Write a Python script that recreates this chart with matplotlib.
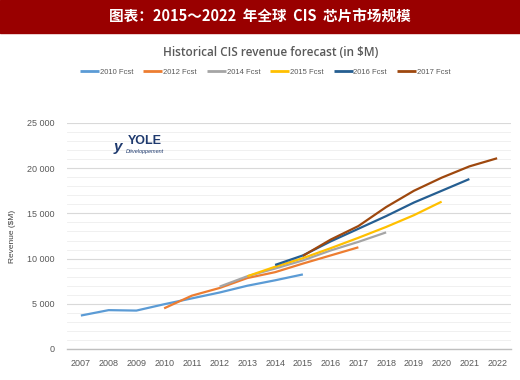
import numpy as np
import matplotlib.pyplot as plt
from matplotlib.patches import Rectangle
from matplotlib.ticker import FuncFormatter

banner_title = '图表：2015～2022  年全球  CIS  芯片市场规模'
chart_title = 'Historical CIS revenue forecast (in $M)'

years_2010 = [2007, 2008, 2009, 2010, 2011, 2012, 2013, 2014, 2015]
fcst_2010 = [3700, 4300, 4250, 4950, 5600, 6250, 7000, 7600, 8250]

years_2012 = [2010, 2011, 2012, 2013, 2014, 2015, 2016, 2017]
fcst_2012 = [4500, 5900, 6750, 7850, 8500, 9450, 10350, 11250]

years_2014 = [2012, 2013, 2014, 2015, 2016, 2017, 2018]
fcst_2014 = [6900, 8050, 8900, 9800, 10900, 11850, 12900]

years_2015 = [2013, 2014, 2015, 2016, 2017, 2018, 2019, 2020]
fcst_2015 = [8050, 9100, 10050, 11150, 12300, 13500, 14800, 16300]

years_2016 = [2014, 2015, 2016, 2017, 2018, 2019, 2020, 2021]
fcst_2016 = [9300, 10350, 11900, 13300, 14700, 16200, 17500, 18800]

years_2017 = [2015, 2016, 2017, 2018, 2019, 2020, 2021, 2022]
fcst_2017 = [10300, 12100, 13600, 15700, 17500, 18950, 20200, 21100]

series = [
    ('2010 Fcst', years_2010, fcst_2010, '#5B9BD5'),
    ('2012 Fcst', years_2012, fcst_2012, '#ED7D31'),
    ('2014 Fcst', years_2014, fcst_2014, '#A5A5A5'),
    ('2015 Fcst', years_2015, fcst_2015, '#FFC000'),
    ('2016 Fcst', years_2016, fcst_2016, '#255E91'),
    ('2017 Fcst', years_2017, fcst_2017, '#9E480E'),
]


def main():
    plt.rcParams['font.family'] = ['Liberation Sans', 'DejaVu Sans']
    fig = plt.figure(figsize=(5.2, 3.8), dpi=100)

    # red banner
    fig.patches.append(Rectangle((0, 1 - 33 / 380), 1, 33 / 380,
                                 transform=fig.transFigure,
                                 color='#990000', zorder=0))
    fig.text(0.5, 1 - 17 / 380, banner_title, color='white',
             fontsize=10.5, fontweight='bold', ha='center', va='center',
             family=['Noto Sans CJK SC', 'DejaVu Sans'])

    fig.text(0.52, 1 - 52 / 380, chart_title, color='#595959',
             fontsize=8.5, fontweight='semibold', ha='center',
             va='center', family='Open Sans')

    ax = fig.add_axes([67 / 520, 1 - 349 / 380, 444 / 520, 226 / 380])
    for name, xs, ys, col in series:
        ax.plot(xs, ys, color=col, lw=1.6, label=name,
                solid_capstyle='butt')

    ax.set_xlim(2006.5, 2022.5)
    ax.set_ylim(0, 25000)
    ax.set_xticks(np.arange(2007, 2023))
    ax.set_yticks(np.arange(0, 25001, 5000))
    ax.set_yticks(np.arange(0, 25001, 1000), minor=True)
    ax.yaxis.set_major_formatter(
        FuncFormatter(lambda v, p: f'{int(v):,}'.replace(',', ' ')))
    ax.grid(axis='y', which='major', color='#d9d9d9', lw=0.8)
    ax.grid(axis='y', which='minor', color='#eeeeee', lw=0.6)
    ax.set_axisbelow(True)
    for s in ['top', 'right', 'left']:
        ax.spines[s].set_visible(False)
    ax.spines['bottom'].set_color('#bfbfbf')
    ax.spines['bottom'].set_linewidth(1.0)
    ax.tick_params(axis='both', which='both', length=0, labelsize=6.5,
                   labelcolor='#595959')
    ax.tick_params(axis='x', pad=7)
    ax.tick_params(axis='y', pad=9)
    ax.set_ylabel('Revenue ($M)', fontsize=6, color='#404040', labelpad=8)

    leg = fig.legend(loc='center', bbox_to_anchor=(0.51, 1 - 72 / 380),
                     ncol=6, frameon=False, fontsize=5.5,
                     handlelength=2.5, handletextpad=0.1,
                     columnspacing=1.3)
    for line in leg.get_lines():
        line.set_linewidth(2)
    for t in leg.get_texts():
        t.set_color('#595959')

    # Yole logo
    fig.text(128 / 520, 1 - 141 / 380, 'YOLE', color='#1f3a6e',
             fontsize=9, fontweight='bold', ha='left', va='center')
    fig.text(126 / 520, 1 - 151 / 380, 'Développement', color='#1f3a6e',
             fontsize=4, style='italic', ha='left', va='center')
    fig.text(114 / 520, 1 - 147 / 380, 'y', color='#1f3a6e',
             fontsize=11, fontweight='bold', style='italic',
             ha='left', va='center')

    plt.savefig('out.png', dpi=100)


if __name__ == '__main__':
    main()
